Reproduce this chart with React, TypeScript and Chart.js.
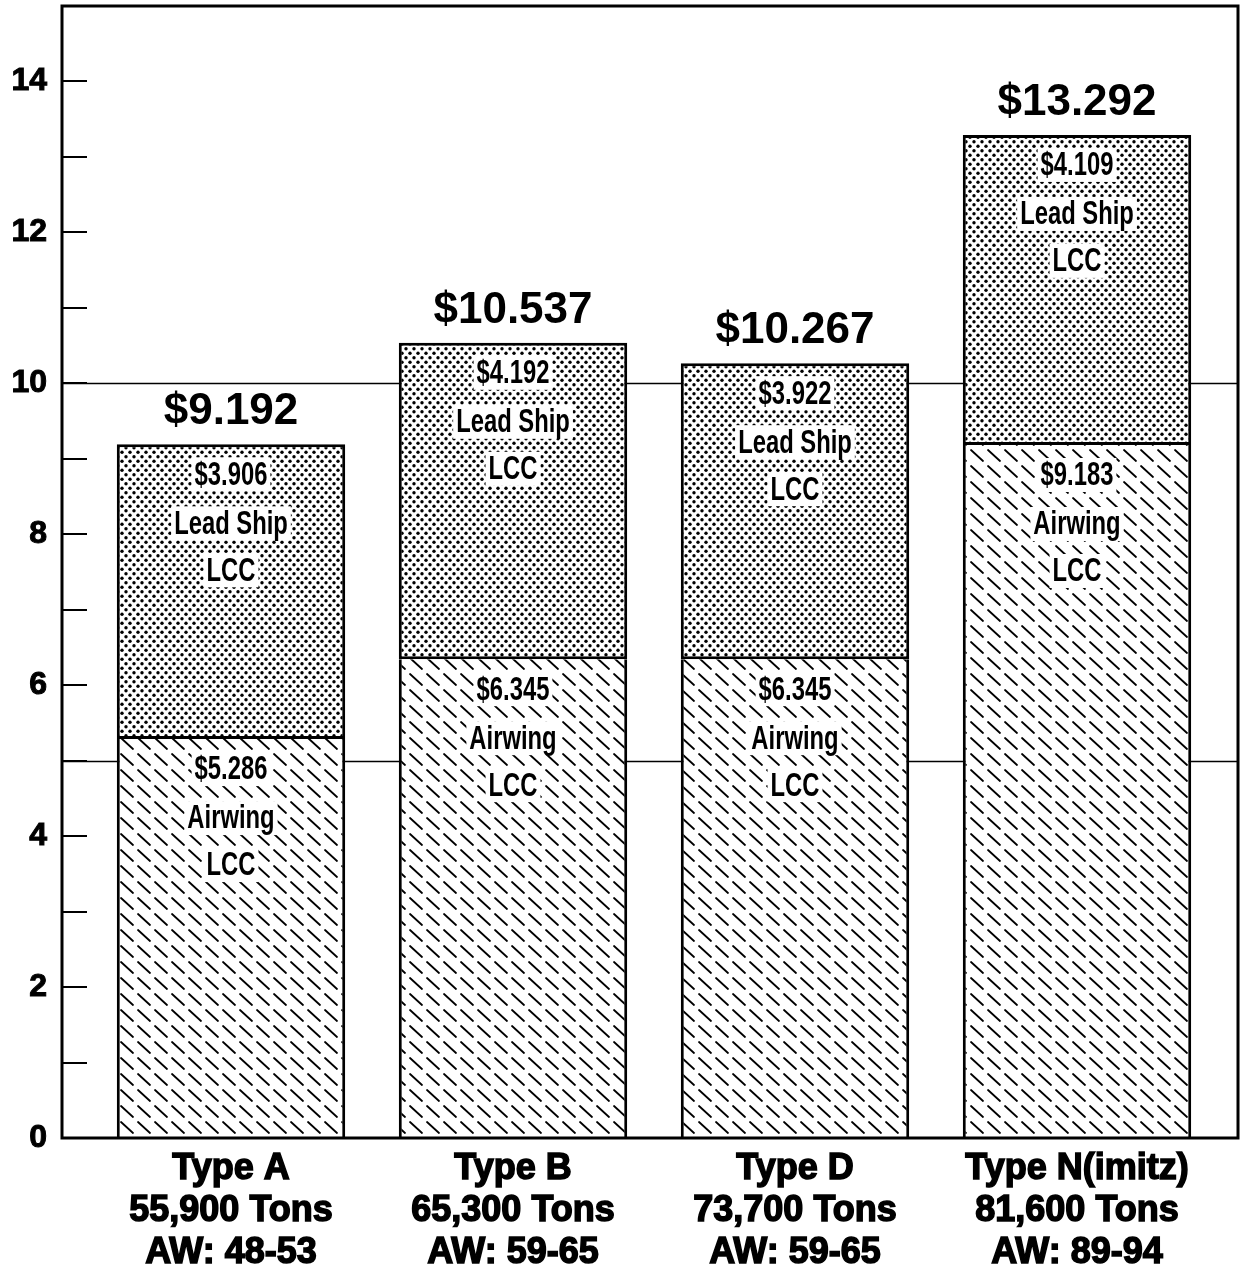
import React, { useEffect, useRef } from 'react';
import { Chart, registerables } from 'chart.js';

Chart.register(...registerables);

const categories: string[][] = [
  ['Type A', '55,900 Tons', 'AW: 48-53'],
  ['Type B', '65,300 Tons', 'AW: 59-65'],
  ['Type D', '73,700 Tons', 'AW: 59-65'],
  ['Type N(imitz)', '81,600 Tons', 'AW: 89-94'],
];
const airwingValues = [5.286, 6.345, 6.345, 9.183];
const leadShipValues = [3.906, 4.192, 3.922, 4.109];
const totalLabels = ['$9.192', '$10.537', '$10.267', '$13.292'];
const airwingLabels = ['$5.286', '$6.345', '$6.345', '$9.183'];
const leadShipLabels = ['$3.906', '$4.192', '$3.922', '$4.109'];
const airwingText = ['Airwing', 'LCC'];
const leadShipText = ['Lead Ship', 'LCC'];
const gridValues = [5, 10];
const yMax = 15;

function makeDotPattern(ctx: CanvasRenderingContext2D) {
  const c = document.createElement('canvas');
  c.width = 8;
  c.height = 9;
  const g = c.getContext('2d')!;
  g.fillStyle = '#fff';
  g.fillRect(0, 0, 8, 9);
  g.fillStyle = '#000';
  g.beginPath();
  g.arc(2, 2.25, 1.7, 0, Math.PI * 2);
  g.fill();
  g.beginPath();
  g.arc(6, 6.75, 1.7, 0, Math.PI * 2);
  g.fill();
  return ctx.createPattern(c, 'repeat')!;
}

function makeHatchPattern(ctx: CanvasRenderingContext2D) {
  const c = document.createElement('canvas');
  c.width = 17;
  c.height = 16;
  const g = c.getContext('2d')!;
  g.fillStyle = '#fff';
  g.fillRect(0, 0, 17, 16);
  g.strokeStyle = '#000';
  g.lineWidth = 1.8;
  g.lineCap = 'round';
  g.beginPath();
  g.moveTo(2, 2);
  g.lineTo(14, 13);
  g.stroke();
  return ctx.createPattern(c, 'repeat')!;
}

function drawCondensed(
  ctx: CanvasRenderingContext2D,
  text: string,
  x: number,
  y: number,
  scaleX: number
) {
  ctx.save();
  ctx.font = 'bold 34px "Liberation Sans", Arial, sans-serif';
  const w = ctx.measureText(text).width * scaleX;
  ctx.fillStyle = '#fff';
  ctx.fillRect(x - w / 2 - 3, y - 17, w + 6, 34);
  ctx.translate(x, y);
  ctx.scale(scaleX, 1);
  ctx.fillStyle = '#000';
  ctx.textAlign = 'center';
  ctx.textBaseline = 'middle';
  ctx.fillText(text, 0, 1);
  ctx.restore();
}

const framePlugin = {
  id: 'framePlugin',
  beforeDatasetsDraw(chart: any) {
    const ctx: CanvasRenderingContext2D = chart.ctx;
    const y = chart.scales.y;
    const area = chart.chartArea;
    const L = area.left - 28;
    const R = area.right + 20;
    ctx.save();
    ctx.strokeStyle = '#000';
    ctx.lineWidth = 1.5;
    gridValues.forEach((v) => {
      const py = Math.round(y.getPixelForValue(v)) + 0.5;
      ctx.beginPath();
      ctx.moveTo(L, py);
      ctx.lineTo(R, py);
      ctx.stroke();
    });
    ctx.lineWidth = 2;
    for (let v = 1; v < yMax; v++) {
      const py = Math.round(y.getPixelForValue(v));
      ctx.beginPath();
      ctx.moveTo(L, py);
      ctx.lineTo(L + 25, py);
      ctx.stroke();
    }
    ctx.restore();
  },
  afterDatasetsDraw(chart: any) {
    const ctx: CanvasRenderingContext2D = chart.ctx;
    const y = chart.scales.y;
    const area = chart.chartArea;
    const L = area.left - 28;
    const R = area.right + 20;
    const T = y.getPixelForValue(yMax);
    const B = y.getPixelForValue(0);
    ctx.save();
    ctx.strokeStyle = '#000';
    ctx.lineWidth = 3;
    ctx.strokeRect(L, T, R - L, B - T);
    ctx.restore();

    const meta0 = chart.getDatasetMeta(0);
    const meta1 = chart.getDatasetMeta(1);
    const sx = 0.7;
    categories.forEach((_, i) => {
      const a = meta0.data[i];
      const l = meta1.data[i];
      const cx = a.x;
      const aTop = a.y;
      const lTop = l.y;
      const offs = [30, 79, 126];
      drawCondensed(ctx, airwingLabels[i], cx, aTop + offs[0], sx);
      drawCondensed(ctx, airwingText[0], cx, aTop + offs[1], sx);
      drawCondensed(ctx, airwingText[1], cx, aTop + offs[2], sx);
      drawCondensed(ctx, leadShipLabels[i], cx, lTop + offs[0], sx);
      drawCondensed(ctx, leadShipText[0], cx, lTop + offs[1], sx);
      drawCondensed(ctx, leadShipText[1], cx, lTop + offs[2], sx);
      ctx.save();
      ctx.font = 'bold 44px "Liberation Sans", Arial, sans-serif';
      ctx.fillStyle = '#000';
      ctx.textAlign = 'center';
      ctx.textBaseline = 'middle';
      ctx.fillText(totalLabels[i], cx, lTop - 32);
      ctx.restore();
    });
  },
};

export default function App() {
  const ref = useRef<HTMLCanvasElement | null>(null);
  useEffect(() => {
    const canvas = ref.current!;
    const ctx = canvas.getContext('2d')!;
    const dots = makeDotPattern(ctx);
    const hatch = makeHatchPattern(ctx);
    const chart = new Chart(canvas, {
      type: 'bar',
      data: {
        labels: categories,
        datasets: [
          {
            label: 'Airwing LCC',
            data: airwingValues,
            backgroundColor: hatch as any,
            borderColor: '#000',
            borderWidth: { left: 3, right: 3, top: 0, bottom: 0 } as any,
            borderSkipped: false,
            barPercentage: 0.81,
            categoryPercentage: 1,
          },
          {
            label: 'Lead Ship LCC',
            data: leadShipValues,
            backgroundColor: dots as any,
            borderColor: '#000',
            borderWidth: 3,
            borderSkipped: false,
            barPercentage: 0.81,
            categoryPercentage: 1,
          },
        ],
      },
      options: {
        responsive: false,
        animation: false,
        layout: { padding: { top: 6, right: 22, left: 0, bottom: 0 } },
        plugins: { legend: { display: false }, tooltip: { enabled: false } },
        scales: {
          x: {
            stacked: true,
            grid: { display: false, drawTicks: false },
            border: { display: false },
            ticks: {
              color: '#000',
              padding: 10,
              textStrokeColor: '#000',
              textStrokeWidth: 1.5,
              font: { family: '"Liberation Sans", Arial, sans-serif', size: 36, weight: 'bold', lineHeight: 1.17 },
            },
            afterFit: (s: any) => {
              s.height = 130;
              s.paddingLeft = 0;
              s.paddingRight = 0;
            },
          },
          y: {
            stacked: true,
            min: 0,
            max: yMax,
            grid: { display: false, drawTicks: false },
            border: { display: false },
            ticks: {
              stepSize: 2,
              includeBounds: false,
              color: '#000',
              padding: 43,
              textStrokeColor: '#000',
              textStrokeWidth: 1,
              font: { family: '"Liberation Sans", Arial, sans-serif', size: 32, weight: 'bold' },
              callback: (v: any) => (Number(v) % 2 === 0 ? String(v) : null),
            },
            afterFit: (s: any) => {
              s.width = 90;
              s.paddingTop = 0;
              s.paddingBottom = 0;
            },
          },
        },
      },
      plugins: [framePlugin],
    });
    return () => chart.destroy();
  }, []);
  return (
    <div style={{ position: 'absolute', left: 0, top: 0, width: 1240, height: 1268, background: '#fff' }}>
      <canvas ref={ref} width={1240} height={1268} />
    </div>
  );
}
